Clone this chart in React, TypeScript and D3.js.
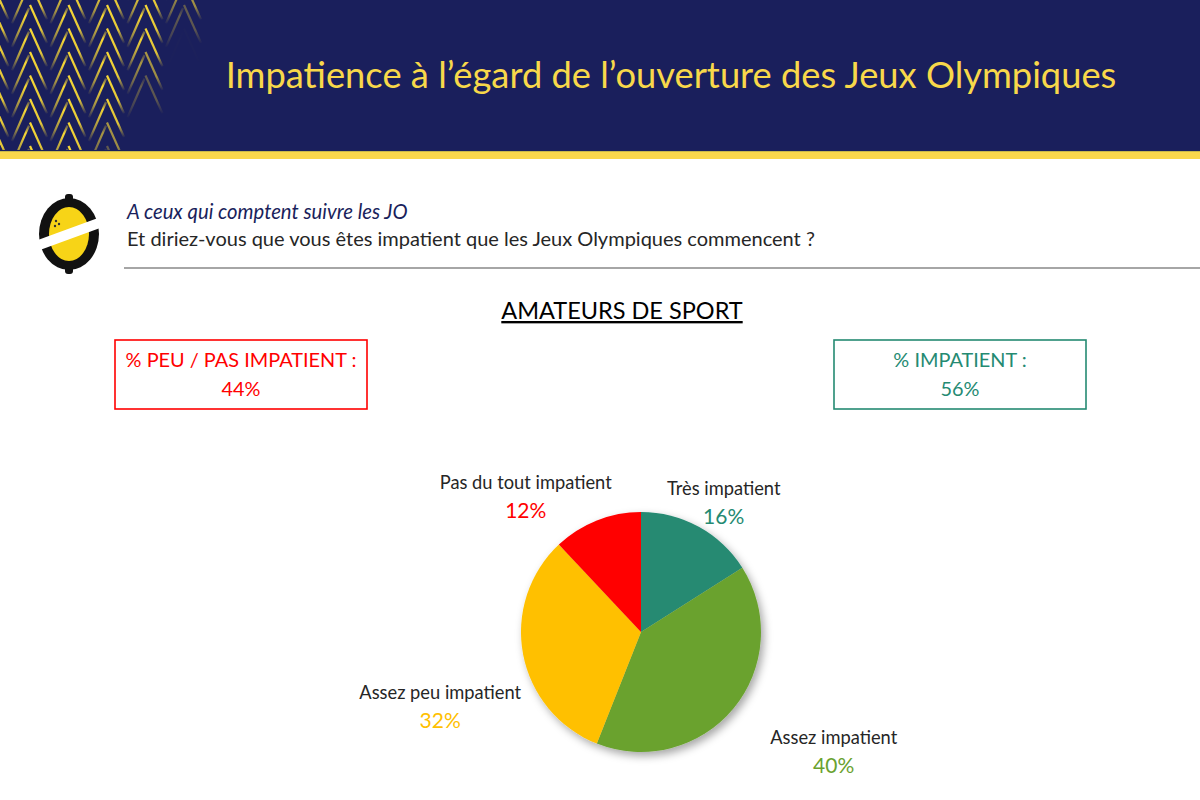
import * as d3 from "d3";

const categories = ["Très impatient", "Assez impatient", "Assez peu impatient", "Pas du tout impatient"];
const values = [16, 40, 32, 12];
const colors = ["#258a72", "#6aa22f", "#ffc000", "#ff0000"];
const labelNudge: [number, number][] = [
  [-4, 29],
  [54, 5],
  [-24, 41],
  [-49, 32],
];

const groupLabels = ["% PEU / PAS IMPATIENT :", "% IMPATIENT :"];
const groupValues = [44, 56];
const groupColors = ["#ff0000", "#258a72"];

const W = 1200;
const H = 800;
const NAVY = "#1a1f5c";
const font = "Lato, 'Open Sans', sans-serif";

const Chevrons = () => {
  const lines = [];
  for (let i = -1; i < 6; i++) {
    for (let j = -2; j < 8; j++) {
      const x = 30 + i * 38.5;
      const y = 5 + j * 23.5;
      const edge = 200 - 0.55 * y;
      const o = Math.max(0, Math.min(1, (edge - x) / 40));
      if (o <= 0) continue;
      lines.push(
        <g key={`${i}-${j}`} opacity={o}>
          <line x1={x - 1} y1={y + 3} x2={x - 18} y2={y + 42} stroke="url(#armL)" strokeWidth={2.2} />
          <line x1={x} y1={y} x2={x + 17} y2={y + 38} stroke="url(#armR)" strokeWidth={2.2} />
        </g>
      );
    }
  }
  return (
    <g>
      <defs>
        <linearGradient id="armR" x1="0" y1="0" x2="0" y2="1">
          <stop offset="0" stopColor="#fada35" stopOpacity={1} />
          <stop offset="0.65" stopColor="#fada35" stopOpacity={0.9} />
          <stop offset="1" stopColor="#fada35" stopOpacity={0.05} />
        </linearGradient>
        <linearGradient id="armL" x1="0" y1="0" x2="0" y2="1">
          <stop offset="0" stopColor="#fada35" stopOpacity={0.3} />
          <stop offset="0.2" stopColor="#fada35" stopOpacity={1} />
          <stop offset="0.7" stopColor="#fada35" stopOpacity={0.6} />
          <stop offset="1" stopColor="#fada35" stopOpacity={0.05} />
        </linearGradient>
        <clipPath id="hdr">
          <rect x={0} y={0} width={W} height={150} />
        </clipPath>
      </defs>
      <g clipPath="url(#hdr)">{lines}</g>
    </g>
  );
};

const Logo = () => (
  <g transform="translate(69,234)">
    <rect x={-4} y={-40} width={8} height={8} rx={3} fill="#111" />
    <rect x={-4} y={32} width={8} height={8} rx={3} fill="#111" />
    <ellipse rx={30} ry={36} fill="#111" />
    <ellipse rx={20} ry={27} fill="#f7d417" />
    <rect x={-40} y={-5} width={80} height={10} fill="#fff" transform="rotate(-20)" />
    <circle cx={-13} cy={-13} r={1.2} fill="#333" />
    <circle cx={-10} cy={-10} r={1.2} fill="#333" />
    <circle cx={-14} cy={-8} r={1.2} fill="#333" />
  </g>
);

export default function App() {
  const cx = 641;
  const cy = 632;
  const r = 120;

  const pie = d3.pie<number>().sort(null).value((d) => d);
  const arcs = pie(values);
  const arc = d3.arc<d3.PieArcDatum<number>>().innerRadius(0).outerRadius(r);
  const labelArc = d3.arc<d3.PieArcDatum<number>>().innerRadius(180).outerRadius(180);

  const boxX = d3.scalePoint<number>().domain([0, 1]).range([241, 960]);

  return (
    <svg
      width={W}
      height={H}
      viewBox={`0 0 ${W} ${H}`}
      style={{ position: "absolute", left: 0, top: 0, display: "block", background: "#fff" }}
      fontFamily={font}
    >
      <defs>
        <filter id="shadow" x="-30%" y="-30%" width="160%" height="160%">
          <feDropShadow dx={3} dy={4} stdDeviation={4} floodColor="#000" floodOpacity={0.35} />
        </filter>
      </defs>

      <rect x={0} y={0} width={W} height={151} fill={NAVY} />
      <Chevrons />
      <rect x={0} y={151} width={W} height={2} fill="#c9b84a" />
      <rect x={0} y={152} width={W} height={7} fill="#fbd74b" />
      <text x={671} y={88} textAnchor="middle" fontSize={36.3} fill="#f8d84a">
        Impatience à l’égard de l’ouverture des Jeux Olympiques
      </text>

      <Logo />
      <text x={127} y={219} fontSize={20.3} fontStyle="italic" fill={NAVY}>
        A ceux qui comptent suivre les JO
      </text>
      <text x={127} y={246} fontSize={20} fill="#262626">
        Et diriez-vous que vous êtes impatient que les Jeux Olympiques commencent ?
      </text>
      <line x1={124} x2={W} y1={268} y2={268} stroke="#a6a6a6" strokeWidth={2} />

      <text x={622} y={319} textAnchor="middle" fontSize={23.5} fill="#000" textDecoration="underline">
        AMATEURS DE SPORT
      </text>

      {groupLabels.map((g, i) => (
        <g key={g} transform={`translate(${boxX(i)},0)`}>
          <rect x={-126} y={340} width={252} height={69} fill="#fff" stroke={groupColors[i]} strokeWidth={1.6} />
          <text x={0} y={367} textAnchor="middle" fontSize={19.9} fill={groupColors[i]}>
            {g}
          </text>
          <text x={0} y={396} textAnchor="middle" fontSize={19.9} fill={groupColors[i]}>
            {groupValues[i]}%
          </text>
        </g>
      ))}

      <g transform={`translate(${cx},${cy})`}>
        <g filter="url(#shadow)">
          {arcs.map((a, i) => (
            <path key={i} d={arc(a) ?? ""} fill={colors[i]} />
          ))}
        </g>
        {arcs.map((a, i) => {
          const [lx, ly] = labelArc.centroid(a);
          const x = lx + labelNudge[i][0];
          const y = ly + labelNudge[i][1];
          return (
            <g key={categories[i]} transform={`translate(${x},${y})`}>
              <text y={-8} textAnchor="middle" fontSize={18.3} fill="#262626">
                {categories[i]}
              </text>
              <text y={21} textAnchor="middle" fontSize={21} fill={colors[i]}>
                {values[i]}%
              </text>
            </g>
          );
        })}
      </g>
    </svg>
  );
}
